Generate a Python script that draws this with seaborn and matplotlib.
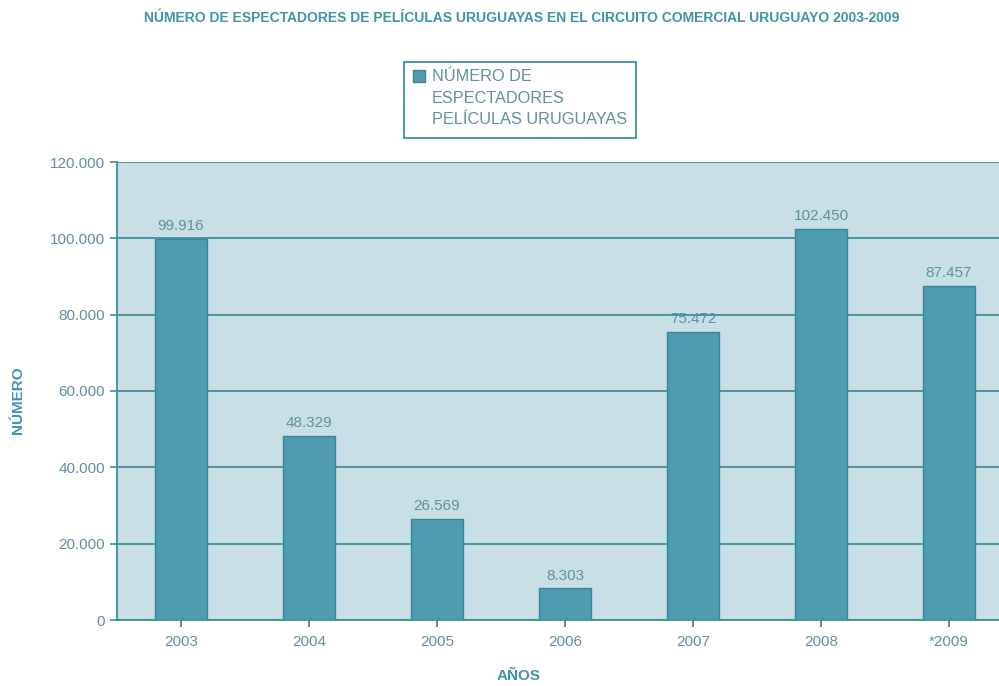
import matplotlib
matplotlib.use("Agg")
import matplotlib.pyplot as plt
import seaborn as sns
import pandas as pd
from matplotlib.ticker import FuncFormatter
from matplotlib.patches import Rectangle

years = ["2003", "2004", "2005", "2006", "2007", "2008", "*2009"]
spectators = [99916, 48329, 26569, 8303, 75472, 102450, 87457]
yticks = [0, 20000, 40000, 60000, 80000, 100000, 120000]

series_name = "NÚMERO DE\nESPECTADORES\nPELÍCULAS URUGUAYAS"

df = pd.DataFrame({"year": years, "value": spectators})

sns.set_theme(style="white")
plt.rcParams['font.family'] = ['Liberation Sans', 'DejaVu Sans']

bar_color = "#4f9bb0"
edge_color = "#3b8597"
bg_color = "#c9dfe6"
grid_color = "#3e8e9e"
text_color = "#5e919c"
title_color = "#3f95a8"

W, H = 999, 686
fig = plt.figure(figsize=(9.99, 6.86), dpi=100)
ax = fig.add_axes([117/W, 66/H, (1013-117)/W, (620-162)/H])
ax.set_facecolor(bg_color)

sns.barplot(data=df, x="year", y="value", ax=ax, color=bar_color, width=0.41,
            edgecolor=edge_color, linewidth=1.0, saturation=1, zorder=3)

ax.set_xlim(-0.5, 6.5)
ax.set_ylim(0, 120000)
ax.set_yticks(yticks)
ax.yaxis.set_major_formatter(FuncFormatter(lambda v, p: "0" if v == 0 else f"{int(v):,}".replace(",", ".")))
ax.yaxis.grid(True, color=grid_color, linewidth=1.3, zorder=1)
ax.set_axisbelow(True)

for s in ["top", "right"]:
    ax.spines[s].set_visible(False)
ax.spines["left"].set_color(grid_color)
ax.spines["bottom"].set_color(grid_color)
ax.spines["left"].set_linewidth(1.3)
ax.spines["bottom"].set_linewidth(1.3)

ax.tick_params(axis="both", colors=text_color, labelsize=11, length=5, width=1.2,
               direction="out", left=True, bottom=True)
ax.tick_params(axis="y", colors=grid_color, labelcolor=text_color)
ax.tick_params(axis="x", colors="#5a6e74", labelcolor=text_color, pad=6)

for i, v in enumerate(spectators):
    ax.text(i, v + 1500, f"{v:,}".replace(",", "."), ha="center", va="bottom",
            fontsize=11, color=text_color, zorder=4)

ax.set_xlabel("AÑOS", fontsize=11, fontweight="bold", color=title_color)
ax.set_ylabel("NÚMERO", fontsize=11, fontweight="bold", color=title_color)
ax.xaxis.set_label_coords((519-117)/(1013-117), -(669-620)/(620-162))
ax.yaxis.set_label_coords(-(117-25)/(1013-117), (620-400)/(620-162))

fig.text(522/W, 1 - 18/H, "NÚMERO DE ESPECTADORES DE PELÍCULAS URUGUAYAS EN EL CIRCUITO COMERCIAL URUGUAYO 2003-2009",
         ha="center", va="center", fontsize=10, fontweight="bold", color=title_color)

# legend drawn as figure artists
fig.patches.append(Rectangle((404/W, 1 - 138/H), (636-404)/W, (138-62)/H,
                             transform=fig.transFigure, facecolor="white",
                             edgecolor=grid_color, linewidth=1.3))
fig.patches.append(Rectangle((413/W, 1 - 82/H), 12/W, 12/H,
                             transform=fig.transFigure, facecolor=bar_color,
                             edgecolor=edge_color, linewidth=1.0))
fig.text(432/W, 1 - 69/H, series_name, ha="left", va="top", fontsize=11.7,
         color=text_color, linespacing=1.55)

fig.savefig("out.png", dpi=100)
